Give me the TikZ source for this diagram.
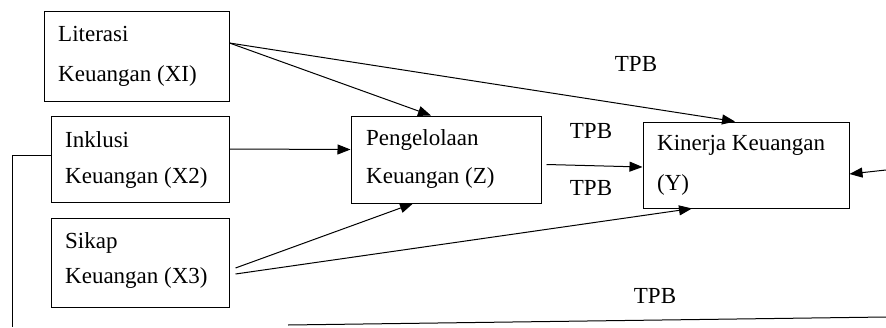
\documentclass[tikz,border=0pt]{standalone}
\usepackage{fontspec}
\setmainfont{Liberation Serif}
\usetikzlibrary{arrows.meta}
\begin{document}
\begin{tikzpicture}[x=1pt,y=-1pt,
  box/.style={draw, line width=1pt, inner sep=0pt},
  txt/.style={anchor=base west, inner sep=0pt, font=\fontsize{23}{27}\selectfont},
  lbl/.style={inner sep=0pt, font=\fontsize{23}{27}\selectfont},
  conn/.style={line width=1pt},
  arr/.style={conn, -{Triangle[length=13pt,width=10pt]}}]
\useasboundingbox (0,0) rectangle (886,327);
% boxes
\node[box, minimum width=185pt, minimum height=90pt] (X1) at (136.5,56) {};
\node[box, minimum width=178pt, minimum height=86pt] (X2) at (140,159) {};
\node[box, minimum width=178pt, minimum height=89pt] (X3) at (140,262.5) {};
\node[box, minimum width=190pt, minimum height=87pt] (Z) at (446,159.5) {};
\node[box, minimum width=206pt, minimum height=86pt] (Y) at (746,165) {};
% texts
\node[txt] (t1a) at (58,41) {Literasi};
\node[txt] (t1b) at (58,81) {Keuangan (XI)};
\node[txt] (t2a) at (65,147) {Inklusi};
\node[txt] (t2b) at (65,183) {Keuangan (X2)};
\node[txt] (t3a) at (65,248) {Sikap};
\node[txt] (t3b) at (65,283) {Keuangan (X3)};
\node[txt] (tza) at (366,145) {Pengelolaan};
\node[txt] (tzb) at (366,183) {Keuangan (Z)};
\node[txt] (tya) at (657,150) {Kinerja Keuangan};
\node[txt] (tyb) at (657,190) {(Y)};
% TPB labels
\node[lbl] (p1) at (636,64) {TPB};
\node[lbl] (p2) at (591,131) {TPB};
\node[lbl] (p3) at (591,188) {TPB};
\node[lbl] (p4) at (655,296) {TPB};
% coordinates
\coordinate (rin) at (886,170);
\coordinate (lc) at (12,155);
\coordinate (lb) at (12,327);
\coordinate (ba) at (288,325);
\coordinate (bb) at (886,317);
% connectors
\draw[arr] ([yshift=13pt]X1.east) -- ([xshift=-15pt]Z.north);
\draw[arr] ([yshift=13pt]X1.east) -- ([xshift=-11pt]Y.north);
\draw[arr] ([yshift=10pt]X2.east) -- ([yshift=10pt]Z.west);
\draw[arr] ([xshift=6pt,yshift=-5.5pt]X3.east) -- ([xshift=-33pt]Z.south);
\draw[arr] ([xshift=6pt,yshift=-11.5pt]X3.east) -- ([xshift=-54pt]Y.south);
\draw[arr] ([xshift=5pt,yshift=-5pt]Z.east) -- ([yshift=-2pt]Y.west);
\draw[arr] (rin) -- ([yshift=-9pt]Y.east);
\draw[conn] ([yshift=4pt]X2.west) -- (lc) -- (lb);
\draw[conn] (ba) -- (bb);
\end{tikzpicture}
\end{document}
